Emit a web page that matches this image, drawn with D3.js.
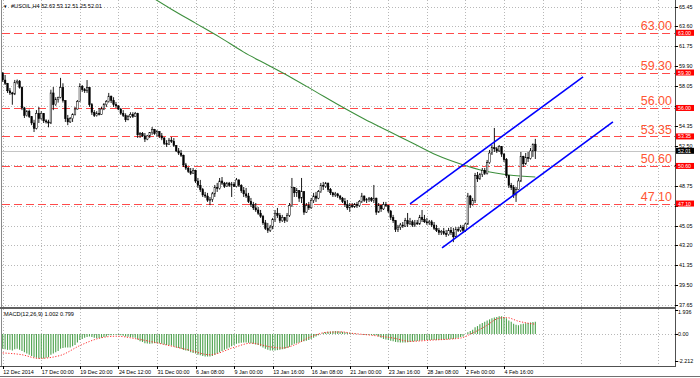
<!DOCTYPE html>
<html><head><meta charset="utf-8">
<script src="https://cdn.jsdelivr.net/npm/d3@7"></script>
<style>html,body{margin:0;padding:0;background:#fff;}svg{display:block;font-family:"Liberation Sans",Arial,sans-serif;}</style>
</head><body><svg id="c" width="700" height="378"></svg>
<script>
// ---------- DATA ----------
const symbolTitle = "#USOIL,H4 52.63 53.12 51.25 52.01";
const macdTitle = "MACD(12,26,9) 1.002 0.799";
const xLabels = ["12 Dec 2014","17 Dec 00:00","19 Dec 20:00","24 Dec 12:00","31 Dec 00:00","6 Jan 08:00","9 Jan 00:00","13 Jan 16:00","16 Jan 08:00","21 Jan 00:00","23 Jan 16:00","28 Jan 08:00","2 Feb 00:00","4 Feb 16:00"];
const barsPerLabel = 16;
const priceTicks = [65.45,63.60,61.75,59.90,58.05,56.20,54.35,52.50,50.65,48.75,46.90,45.05,43.20,41.35,39.50,37.65];
const levels = [63.00,59.30,56.00,53.35,50.60,47.10];
const lastPrice = 52.01;
const macdTicks = [1.936,0.00,-2.212];
// [open, high, low, close] per H4 bar
const ohlc = [
[59.2,59.35,58.42,58.6],[58.6,59.07,58.14,58.3],[58.3,58.33,57.4,57.6],[57.6,57.86,57.21,57.4],[57.4,57.5,56.3,57.3],
[57.3,58.61,57.2,58.4],[58.4,58.65,58.2,58.5],[58.5,58.6,57.8,57.9],[57.9,58.0,55.8,56.0],[56.0,56.1,55.07,55.3],
[55.3,55.8,55.2,55.7],[55.7,55.85,55.07,55.2],[55.2,55.2,54.4,54.6],[54.6,54.9,53.76,54.1],[54.1,55.8,54.0,55.5],
[55.5,56.1,54.6,55.0],[55.0,55.7,54.9,55.5],[55.5,55.5,54.6,54.8],[54.8,54.95,54.55,54.7],[54.7,54.9,54.2,54.6],
[54.6,57.7,54.5,57.4],[57.4,57.95,55.8,56.3],[56.3,57.0,56.2,56.8],[56.8,57.05,56.5,57.0],[57.0,58.8,56.9,57.9],
[57.9,58.3,56.5,56.7],[56.7,56.7,54.7,55.0],[55.0,55.35,54.4,54.7],[54.7,55.16,54.6,55.0],[55.0,55.5,54.7,55.4],
[55.4,56.1,55.3,55.9],[55.9,56.74,55.85,56.6],[56.6,58.3,56.55,58.0],[58.0,58.14,57.5,57.7],[57.7,57.86,57.4,57.6],
[57.6,58.6,57.4,57.9],[57.9,57.95,56.1,56.3],[56.3,56.46,55.35,55.6],[55.6,55.8,55.16,55.3],[55.3,55.7,55.2,55.5],
[55.5,56.0,55.3,55.4],[55.4,56.1,55.35,55.9],[55.9,56.46,55.8,56.3],[56.3,56.74,56.1,56.6],[56.6,57.4,56.5,57.1],
[57.1,57.15,56.46,56.7],[56.7,57.0,56.1,56.3],[56.3,56.56,56.0,56.2],[56.2,56.25,55.8,55.9],[55.9,56.0,55.35,55.5],
[55.5,55.8,55.16,55.3],[55.3,55.5,54.7,54.9],[54.9,55.35,54.85,55.2],[55.2,55.6,55.07,55.4],[55.4,55.6,55.07,55.2],
[55.2,55.63,55.16,55.5],[55.5,55.55,53.21,53.5],[53.5,53.76,53.21,53.6],[53.6,53.76,53.3,53.4],[53.4,53.67,52.83,53.1],
[53.1,53.49,53.0,53.4],[53.4,53.76,53.2,53.7],[53.7,54.23,53.5,54.0],[54.0,54.05,53.5,53.6],[53.6,53.95,53.3,53.8],
[53.8,53.85,53.2,53.4],[53.4,53.67,53.0,53.2],[53.2,53.3,52.55,52.7],[52.7,53.0,52.37,52.6],[52.6,53.2,52.55,53.0],
[53.0,53.3,52.74,52.9],[52.9,53.2,52.37,52.5],[52.5,52.55,51.9,52.0],[52.0,52.27,51.62,51.8],[51.8,52.09,51.44,51.6],
[51.6,51.65,50.51,50.7],[50.7,50.88,50.23,50.4],[50.4,50.51,49.95,50.1],[50.1,50.41,49.76,49.9],[49.9,50.41,49.85,50.2],
[50.2,50.25,49.02,49.2],[49.2,49.48,48.55,48.8],[48.8,49.3,48.18,48.4],[48.4,48.55,47.71,47.9],[47.9,48.18,47.62,47.8],
[47.8,48.09,47.25,47.4],[47.4,47.71,46.95,47.5],[47.5,48.18,47.25,48.0],[48.0,48.83,47.71,48.6],[48.6,49.02,48.18,48.5],
[48.5,49.48,48.4,49.2],[49.2,49.57,48.83,49.0],[49.0,49.11,48.55,48.7],[48.7,49.11,48.64,49.0],[49.0,49.11,48.64,48.8],
[48.8,49.11,47.71,48.9],[48.9,49.11,48.64,48.7],[48.7,49.48,48.6,49.3],[49.3,49.35,48.64,48.8],[48.8,48.9,48.09,48.3],
[48.3,48.64,47.71,48.0],[48.0,48.55,47.62,47.8],[47.8,48.09,47.15,47.3],[47.3,47.62,46.78,47.0],[47.0,47.25,46.5,46.7],
[46.7,47.15,46.32,46.5],[46.5,46.78,46.04,46.2],[46.2,46.5,45.76,45.9],[45.9,46.04,45.11,45.3],[45.3,45.57,44.64,44.8],
[44.8,45.29,44.36,44.6],[44.6,45.11,44.45,44.9],[44.9,45.76,44.7,45.6],[45.6,46.5,45.38,46.2],[46.2,46.69,45.76,46.0],
[46.0,46.22,45.29,45.5],[45.5,46.04,45.38,45.8],[45.8,45.85,45.29,45.5],[45.5,46.22,45.38,46.0],[46.0,47.15,45.85,46.9],
[46.9,49.48,46.78,48.6],[48.6,48.64,47.71,48.1],[48.1,48.55,47.71,48.3],[48.3,48.36,47.25,47.6],[47.6,49.48,47.15,48.2],
[48.2,48.25,46.04,46.3],[46.3,47.15,46.22,46.9],[46.9,47.25,46.5,46.7],[46.7,47.62,46.6,47.4],[47.4,48.09,47.15,47.8],
[47.8,48.18,47.25,47.6],[47.6,48.36,47.5,48.2],[48.2,49.02,48.09,48.8],[48.8,49.11,48.36,48.7],[48.7,49.11,48.55,49.0],
[49.0,49.05,48.18,48.4],[48.4,48.55,47.9,48.1],[48.1,48.18,47.71,47.9],[47.9,48.18,47.71,48.0],[48.0,48.09,47.62,47.8],
[47.8,47.9,47.43,47.6],[47.6,47.71,47.15,47.3],[47.3,47.62,46.78,47.0],[47.0,47.43,46.5,46.7],[46.7,47.15,46.32,46.9],
[46.9,47.15,46.69,46.8],[46.8,47.15,46.69,47.0],[47.0,47.25,46.69,46.9],[46.9,47.43,46.78,47.3],[47.3,48.09,47.15,47.8],
[47.8,47.85,47.25,47.4],[47.4,47.62,47.15,47.5],[47.5,47.71,47.25,47.6],[47.6,47.71,47.25,47.4],[47.4,48.83,47.15,47.6],
[47.6,47.65,46.04,46.3],[46.3,47.15,46.22,46.9],[46.9,46.97,46.32,46.6],[46.6,47.25,46.5,47.0],[47.0,47.25,46.78,46.9],
[46.9,46.97,46.22,46.4],[46.4,46.5,45.57,45.8],[45.8,46.04,45.29,45.5],[45.5,45.57,44.45,44.7],[44.7,45.11,44.45,44.9],
[44.9,45.29,44.64,45.1],[45.1,45.38,44.83,45.0],[45.0,45.76,44.92,45.5],[45.5,46.22,44.92,45.2],[45.2,45.76,45.11,45.4],
[45.4,45.57,44.92,45.1],[45.1,45.57,44.92,45.3],[45.3,45.57,45.11,45.2],[45.2,46.04,45.11,45.8],[45.8,46.5,45.38,45.6],
[45.6,46.04,45.29,45.4],[45.4,45.76,45.11,45.3],[45.3,45.57,45.11,45.4],[45.4,45.57,44.92,45.1],[45.1,45.38,44.64,44.8],
[44.8,45.11,44.45,44.6],[44.6,44.83,44.17,44.4],[44.4,44.64,44.17,44.5],[44.5,44.83,44.17,44.3],[44.3,44.64,43.99,44.2],
[44.2,44.83,44.1,44.6],[44.6,44.92,44.17,44.4],[44.4,44.83,43.5,44.0],[44.0,44.92,43.99,44.7],[44.7,44.92,44.45,44.6],
[44.6,45.11,44.45,44.9],[44.9,45.11,44.36,44.6],[44.6,45.3,44.45,45.2],[45.2,48.09,45.1,47.8],[47.8,47.9,46.69,47.0],
[47.0,47.62,46.9,47.4],[47.4,49.95,47.15,49.7],[49.7,50.04,49.11,49.4],[49.4,49.95,49.3,49.8],[49.8,50.41,49.57,50.2],
[50.2,50.41,49.76,49.9],[49.9,51.16,49.8,50.9],[50.9,52.09,50.8,51.8],[51.8,52.55,51.62,52.3],[52.3,54.14,51.9,52.2],
[52.2,52.37,51.81,52.0],[52.0,52.55,51.9,52.4],[52.4,52.45,51.44,51.7],[51.7,51.81,50.97,51.2],[51.2,51.34,49.48,49.7],
[49.7,49.76,48.55,48.8],[48.8,49.02,48.36,48.6],[48.6,48.83,47.62,47.9],[47.9,48.64,47.25,48.4],[48.4,49.48,48.36,49.2],
[49.2,51.9,49.1,51.5],[51.5,51.55,50.51,50.8],[50.8,51.81,50.7,51.4],[51.4,51.9,50.97,51.3],[51.3,52.27,51.2,52.0],
[52.0,52.7,51.44,52.6],[52.63,53.12,51.25,52.01]
];
// 200-period moving average, read at sampled bars [bar, price]
const maPoints = [[62,66.3],[70,65.2],[80,63.9],[90,62.6],[100,61.2],[110,60.0],[120,58.8],[130,57.5],[140,56.2],[150,54.97],[160,53.85],[170,52.74],[180,51.62],[190,50.78],[200,50.13],[210,49.76],[221,49.57]];
// channel trend lines [bar, price]
const channelUpper = [[169.0,47.06],[240.8,58.89]];
const channelLower = [[182.3,42.97],[253.2,54.70]];
// MACD histogram per bar
const macdHist = [
-1.2,-1.25,-1.3,-1.3,-1.35,-1.25,-1.2,-1.3,-1.4,-1.5,
-1.6,-1.7,-1.8,-1.9,-1.95,-2.0,-2.0,-2.0,-1.95,-1.9,
-1.7,-1.6,-1.5,-1.4,-1.2,-1.15,-1.1,-1.1,-1.1,-1.0,
-0.9,-0.7,-0.5,-0.4,-0.3,-0.25,-0.2,-0.25,-0.3,-0.35,
-0.35,-0.3,-0.25,-0.2,-0.1,-0.1,-0.05,-0.05,-0.08,-0.1,
-0.15,-0.2,-0.22,-0.25,-0.28,-0.3,-0.45,-0.6,-0.65,-0.75,
-0.78,-0.8,-0.78,-0.75,-0.75,-0.75,-0.8,-0.85,-0.9,-0.92,
-0.95,-1.0,-1.1,-1.15,-1.2,-1.3,-1.35,-1.4,-1.5,-1.55,
-1.6,-1.7,-1.75,-1.8,-1.85,-1.85,-1.85,-1.8,-1.7,-1.6,
-1.5,-1.4,-1.3,-1.2,-1.1,-1.0,-0.9,-0.8,-0.75,-0.72,
-0.7,-0.7,-0.72,-0.75,-0.8,-0.85,-0.9,-1.0,-1.1,-1.2,
-1.3,-1.35,-1.35,-1.35,-1.32,-1.3,-1.25,-1.2,-1.15,-1.05,
-0.9,-0.8,-0.75,-0.7,-0.65,-0.6,-0.55,-0.5,-0.4,-0.3,
-0.2,-0.1,0.0,0.1,0.15,0.18,0.2,0.22,0.25,0.22,
0.2,0.18,0.15,0.12,0.1,0.08,0.05,0.03,0.0,-0.02,
-0.05,-0.05,-0.05,-0.08,-0.1,-0.1,-0.2,-0.3,-0.4,-0.45,
-0.5,-0.55,-0.6,-0.65,-0.68,-0.7,-0.7,-0.7,-0.68,-0.65,
-0.62,-0.6,-0.58,-0.55,-0.52,-0.5,-0.5,-0.5,-0.5,-0.5,
-0.5,-0.5,-0.5,-0.48,-0.45,-0.42,-0.4,-0.4,-0.35,-0.3,
-0.25,-0.2,0.0,0.15,0.25,0.35,0.55,0.65,0.8,0.9,
1.0,1.1,1.2,1.3,1.35,1.4,1.45,1.45,1.4,1.3,
1.1,1.0,0.85,0.75,0.72,0.8,0.85,0.88,0.9,0.95,0.98,1.0
];
// MACD signal line read at sampled bars [bar, value]
const macdSignal = [[0,-1.55],[8,-1.7],[15,-2.0],[24,-1.75],[32,-0.95],[40,-0.35],[47,-0.18],[57,-0.45],[68,-0.9],[77,-1.3],[86,-1.7],[96,-1.1],[103,-0.75],[111,-1.05],[116,-1.15],[121,-0.9],[127,-0.3],[135,0.15],[141,0.17],[144,0.08],[152,-0.08],[162,-0.33],[169,-0.6],[178,-0.5],[190,-0.33],[195,0.08],[200,0.6],[206,1.3],[209,1.35],[214,1.05],[221,0.8]];

// ---------- LAYOUT ----------
const L = 2, R = 675, mainTop = 0, mainBot = 307, macdTop = 309, macdBot = 366;
const svg = d3.select("#c");
const x = d3.scaleLinear().domain([0, 13 * barsPerLabel]).range([2.7, 504]);
const y = d3.scaleLinear().domain([37.65, 65.45]).range([305, 6.5]);
const ym = d3.scaleLinear().domain([-2.212, 1.936]).range([361, 310.4]);

const defs = svg.append("defs");
defs.append("clipPath").attr("id","cm").append("rect").attr("x",L).attr("y",mainTop).attr("width",R-L).attr("height",mainBot-mainTop);
defs.append("clipPath").attr("id","cd").append("rect").attr("x",L).attr("y",macdTop).attr("width",R-L).attr("height",macdBot-macdTop);

const gridColor = "#b8b8b8";
const gridBars = d3.range(0, 400, barsPerLabel).filter(b => x(b) < R - 3);

// main grid
const gm = svg.append("g").attr("clip-path","url(#cm)");
gm.selectAll(".vg").data(gridBars).join("line")
  .attr("x1",d=>Math.round(x(d))+0.5).attr("x2",d=>Math.round(x(d))+0.5).attr("y1",mainTop).attr("y2",mainBot)
  .attr("stroke",gridColor).attr("stroke-dasharray","1,2");
gm.selectAll(".hg").data(priceTicks).join("line")
  .attr("x1",L).attr("x2",R).attr("y1",d=>Math.round(y(d))+0.5).attr("y2",d=>Math.round(y(d))+0.5)
  .attr("stroke",gridColor).attr("stroke-dasharray","1,2");
// current price line
gm.append("line").attr("x1",L).attr("x2",R).attr("y1",Math.round(y(lastPrice))+0.5).attr("y2",Math.round(y(lastPrice))+0.5)
  .attr("stroke","#c4c4c4").attr("stroke-width",1);
// red horizontal levels
gm.selectAll(".lv").data(levels).join("line")
  .attr("x1",L).attr("x2",R).attr("y1",d=>Math.round(y(d))+0.5).attr("y2",d=>Math.round(y(d))+0.5)
  .attr("stroke","#ff4a4a").attr("stroke-width",1.1).attr("stroke-dasharray","8,4");
// moving average
gm.append("path").datum(maPoints)
  .attr("d", d3.line().x(d=>x(d[0])).y(d=>y(d[1])).curve(d3.curveMonotoneX))
  .attr("fill","none").attr("stroke","#3d8f3d").attr("stroke-width",1.1);
// candles
const bw = 1.6;
const cg = gm.append("g");
cg.selectAll(".wk").data(ohlc).join("line")
  .attr("x1",(d,i)=>x(i)).attr("x2",(d,i)=>x(i)).attr("y1",d=>y(d[1])).attr("y2",d=>y(d[2]))
  .attr("stroke","#000").attr("stroke-width",0.9);
cg.selectAll(".bd").data(ohlc).join("rect")
  .attr("x",(d,i)=>x(i)-bw/2).attr("width",bw)
  .attr("y",d=>y(Math.max(d[0],d[3]))).attr("height",d=>Math.max(0.6, Math.abs(y(d[0])-y(d[3]))))
  .attr("fill",d=>d[3]>=d[0] ? "#ffffff" : "#000000").attr("stroke","#000").attr("stroke-width",0.5);
// channel lines
[channelUpper, channelLower].forEach(c => {
  gm.append("line").attr("x1",x(c[0][0])).attr("y1",y(c[0][1])).attr("x2",x(c[1][0])).attr("y2",y(c[1][1]))
    .attr("stroke","#0000ff").attr("stroke-width",1.6);
});
// level labels
gm.selectAll(".lt").data(levels).join("text")
  .attr("x",672).attr("y",d=>y(d)-2.5).attr("text-anchor","end")
  .attr("font-size",12.5).attr("fill","#ff5533").text(d=>d.toFixed(2));

// title
svg.append("text").attr("x",3).attr("y",8).attr("font-size",4.5).attr("fill","#000").text("\u25BC");
svg.append("text").attr("x",11).attr("y",8).attr("font-size",5.6).attr("fill","#000").text(symbolTitle);

// ---------- MACD ----------
const gd = svg.append("g").attr("clip-path","url(#cd)");
gd.selectAll(".vg").data(gridBars).join("line")
  .attr("x1",d=>Math.round(x(d))+0.5).attr("x2",d=>Math.round(x(d))+0.5).attr("y1",macdTop).attr("y2",macdBot)
  .attr("stroke",gridColor).attr("stroke-dasharray","1,2");
gd.append("line").attr("x1",L).attr("x2",R).attr("y1",Math.round(ym(0))+0.5).attr("y2",Math.round(ym(0))+0.5)
  .attr("stroke",gridColor).attr("stroke-dasharray","1,2");
gd.selectAll(".hb").data(macdHist).join("line")
  .attr("x1",(d,i)=>x(i)).attr("x2",(d,i)=>x(i)).attr("y1",ym(0)).attr("y2",d=>ym(d))
  .attr("stroke","#4ca14c").attr("stroke-width",1.1);
gd.append("path").datum(macdSignal)
  .attr("d", d3.line().x(d=>x(d[0])).y(d=>ym(d[1])).curve(d3.curveMonotoneX))
  .attr("fill","none").attr("stroke","#ff3030").attr("stroke-width",1).attr("stroke-dasharray","1.2,1.6");
svg.append("text").attr("x",4).attr("y",316).attr("font-size",5.6).attr("fill","#000").text(macdTitle);

// ---------- FRAMES ----------
svg.append("line").attr("x1",1.5).attr("x2",1.5).attr("y1",0).attr("y2",macdBot).attr("stroke","#8a8a8a");
svg.append("line").attr("x1",R+0.5).attr("x2",R+0.5).attr("y1",0).attr("y2",macdBot+0.5).attr("stroke","#505050");
svg.append("line").attr("x1",0).attr("x2",R+1).attr("y1",308).attr("y2",308).attr("stroke","#606060").attr("stroke-width",2);
svg.append("line").attr("x1",0).attr("x2",R+1).attr("y1",macdBot+0.5).attr("y2",macdBot+0.5).attr("stroke","#505050");
svg.append("line").attr("x1",0).attr("x2",700).attr("y1",376.5).attr("y2",376.5).attr("stroke","#707070");

// right price axis
const boxed = levels.concat([lastPrice]);
const visibleTicks = priceTicks.filter(t => boxed.every(b => Math.abs(y(t) - y(b)) > 4));
const ax = svg.append("g");
ax.selectAll(".tk").data(priceTicks).join("line")
  .attr("x1",R).attr("x2",R+3).attr("y1",d=>Math.round(y(d))+0.5).attr("y2",d=>Math.round(y(d))+0.5).attr("stroke","#000");
ax.selectAll(".tl").data(visibleTicks).join("text")
  .attr("x",679).attr("y",d=>y(d)+2).attr("font-size",5.4).attr("fill","#000").text(d=>d.toFixed(2));
// level boxes
ax.selectAll(".lb").data(levels).join("rect")
  .attr("x",R+1).attr("y",d=>y(d)-3).attr("width",18).attr("height",6).attr("fill","#ff0000");
ax.selectAll(".lbt").data(levels).join("text")
  .attr("x",678).attr("y",d=>y(d)+2).attr("font-size",5.2).attr("fill","#fff").text(d=>d.toFixed(2));
ax.append("rect").attr("x",R+1).attr("y",y(lastPrice)-3).attr("width",18).attr("height",6).attr("fill","#000");
ax.append("text").attr("x",678).attr("y",y(lastPrice)+2).attr("font-size",5.2).attr("fill","#fff").text(lastPrice.toFixed(2));
// MACD axis
ax.selectAll(".mt").data(macdTicks).join("line")
  .attr("x1",R).attr("x2",R+3).attr("y1",d=>Math.round(ym(d))+0.5).attr("y2",d=>Math.round(ym(d))+0.5).attr("stroke","#000");
ax.selectAll(".mtl").data(macdTicks).join("text")
  .attr("x",678).attr("y",(d,i)=> i===0 ? ym(d)+4 : ym(d)+2).attr("font-size",5.4).attr("fill","#000")
  .text(d=> d===0 ? "0.00" : d.toFixed(3));

// time axis
const tx = svg.append("g");
tx.selectAll(".xt").data(xLabels).join("line")
  .attr("x1",(d,i)=>Math.round(x(i*barsPerLabel))+0.5).attr("x2",(d,i)=>Math.round(x(i*barsPerLabel))+0.5)
  .attr("y1",macdBot).attr("y2",macdBot+3).attr("stroke","#000");
tx.selectAll(".xl").data(xLabels).join("text")
  .attr("x",(d,i)=>x(i*barsPerLabel)+0.5).attr("y",373.5).attr("font-size",5.4).attr("fill","#000").text(d=>d);
</script></body></html>
